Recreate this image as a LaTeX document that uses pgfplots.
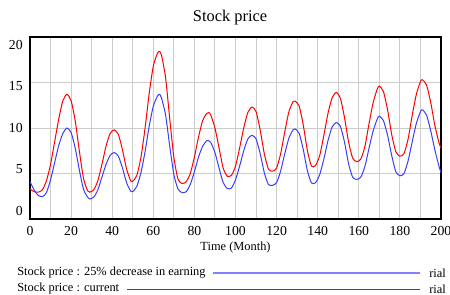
\documentclass[border=0pt]{standalone}
\usepackage{pgfplots}
\pgfplotsset{compat=1.18}
\usepackage{fontspec}
\setmainfont{Liberation Serif}
\definecolor{cblue}{RGB}{60,60,255}
\definecolor{lblue}{RGB}{130,130,255}
\begin{document}
\begin{tikzpicture}[x=0.75pt,y=0.75pt]
\useasboundingbox (0,0) rectangle (450,294);
\clip (0,0) rectangle (450,294);
\begin{axis}[
  at={(22.5pt,56.25pt)}, anchor=south west,
  scale only axis, width=308.25pt, height=136.5pt,
  xmin=0, xmax=200, ymin=0, ymax=20,
  xtick={0,20,...,200}, minor xtick={10,30,...,190},
  ytick={0,5,10,15,20},
  grid=both, major grid style={gray!40, line width=0.75pt}, minor grid style={gray!40, line width=0.75pt},
  major tick length=0pt, minor tick length=0pt,
  axis line style={black, line width=1.5pt},
  tick label style={font=\fontsize{10.3}{12}\selectfont},
  /pgf/number format/assume math mode=true,
  xticklabel style={yshift=-2pt},
  yticklabel style={xshift=-2pt, yshift={(2-\ticknum)*3pt}},
  xlabel={Time (Month)},
  xlabel style={font=\fontsize{9.3}{11}\selectfont, yshift=2.5pt},
  clip=true,
]
\addplot[red, line width=0.75pt, smooth, tension=0.4] coordinates {
(0,3.3)(2,3.0)(4,2.95)(6,3.2)(8,4.2)(10,6.0)(12,8.5)(14,11.0)(16,13.0)(18,13.7)(20,13.0)(22,10.8)(24,7.5)(26,4.5)(28,3.1)(29,2.95)(31,3.2)(33,4.2)(35,6.0)(37,8.0)(39,9.4)(41,9.8)(43,9.3)(45,7.6)(47,5.5)(49,4.2)(50,4.15)(52,4.8)(54,6.8)(56,10.0)(58,13.8)(60,16.8)(62,18.2)(63,18.4)(64,18.0)(66,15.5)(68,11.0)(70,6.8)(72,4.4)(74,3.9)(76,4.1)(78,5.0)(80,6.8)(82,9.0)(84,10.8)(86,11.6)(87,11.7)(88,11.4)(90,10.0)(92,7.8)(94,5.6)(96,4.7)(98,4.8)(100,5.8)(102,7.8)(104,10.0)(106,11.7)(108,12.3)(110,11.8)(112,9.8)(114,7.2)(116,5.5)(118,5.25)(120,5.6)(122,7.2)(124,9.6)(126,11.8)(128,12.9)(129,12.95)(131,12.4)(133,10.3)(135,7.5)(137,5.8)(139,5.9)(141,7.0)(143,9.2)(145,11.6)(147,13.3)(149,13.9)(151,13.3)(153,11.2)(155,8.5)(157,6.7)(159,6.3)(161,6.6)(163,8.0)(165,10.5)(167,12.8)(169,14.3)(170,14.6)(172,14.0)(174,12.0)(176,9.3)(178,7.4)(180,6.9)(182,7.2)(184,8.8)(186,11.4)(188,13.7)(190,15.1)(191,15.3)(193,14.7)(195,12.8)(197,10.3)(199,8.4)(200,7.8)
};
\addplot[cblue, line width=0.75pt, smooth, tension=0.4] coordinates {
(0,4.1)(2,3.2)(4,2.6)(6,2.45)(8,2.9)(10,4.3)(12,6.2)(14,8.1)(16,9.4)(18,10.0)(20,9.5)(22,7.8)(24,5.4)(26,3.3)(28,2.4)(29,2.2)(31,2.4)(33,3.2)(35,4.6)(37,6.0)(39,7.0)(41,7.3)(43,6.9)(45,5.6)(47,4.0)(49,3.05)(50,3.0)(52,3.6)(54,5.1)(56,7.4)(58,10.2)(60,12.4)(62,13.5)(63,13.7)(64,13.3)(66,11.4)(68,8.0)(70,4.9)(72,3.3)(74,2.9)(76,3.0)(78,3.8)(80,5.2)(82,6.8)(84,8.0)(86,8.6)(87,8.6)(88,8.4)(90,7.3)(92,5.6)(94,4.0)(96,3.35)(98,3.4)(100,4.3)(102,5.8)(104,7.5)(106,8.8)(108,9.2)(110,8.8)(112,7.2)(114,5.1)(116,3.8)(118,3.7)(120,4.0)(122,5.3)(124,7.2)(126,8.9)(128,9.8)(129,9.9)(131,9.4)(133,7.6)(135,5.3)(137,3.95)(139,4.0)(141,4.9)(143,6.6)(145,8.6)(147,10.1)(149,10.6)(151,10.2)(153,8.5)(155,6.1)(157,4.6)(159,4.35)(161,4.6)(163,5.8)(165,7.8)(167,9.7)(169,11.0)(170,11.3)(172,10.8)(174,9.2)(176,7.0)(178,5.2)(180,4.75)(182,5.0)(184,6.4)(186,8.5)(188,10.5)(190,11.8)(191,12.0)(193,11.4)(195,9.7)(197,7.6)(199,5.8)(200,5.1)
};
\end{axis}
\node[font=\fontsize{12.3}{14}\selectfont] at (230,276) {Stock price};
\node[anchor=west, font=\fontsize{9.3}{11}\selectfont, inner sep=0pt] at (17,21) {Stock price : 25\% decrease in earning};
\draw[lblue, line width=1.5pt] (213,21) -- (420,21);
\node[anchor=west, font=\fontsize{9.3}{11}\selectfont, inner sep=0pt] at (429,21) {rial};
\node[anchor=west, font=\fontsize{9.3}{11}\selectfont, inner sep=0pt] at (17,5) {Stock price : current};
\draw[red, line width=0.6pt] (127,5) -- (420,5);
\node[anchor=west, font=\fontsize{9.3}{11}\selectfont, inner sep=0pt] at (429,5) {rial};
\end{tikzpicture}
\end{document}
